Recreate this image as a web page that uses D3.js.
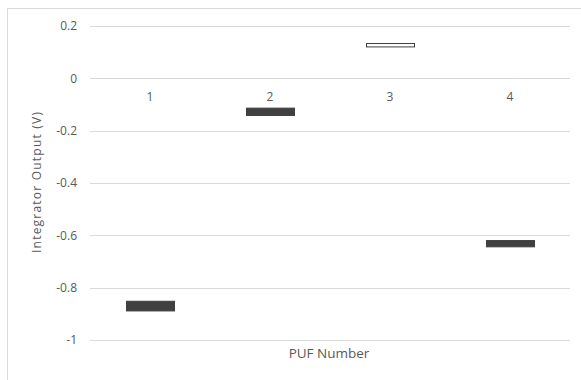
<!DOCTYPE html>
<html>
<head>
<meta charset="utf-8">
<script src="https://cdn.jsdelivr.net/npm/d3@7/dist/d3.min.js"></script>
<style>
  html, body { margin: 0; padding: 0; background: #fff; }
  svg { display: block; }
  text { font-family: "Open Sans", "Noto Sans", sans-serif; fill: #595959; }
</style>
</head>
<body>
<svg id="chart" width="581" height="380"></svg>
<script>
// PUF integrator readings drawn as open/close up-down bars
const pufs = ["1", "2", "3", "4"];
const openValues = [-0.85, -0.112, 0.122, -0.618];
const closeValues = [-0.887, -0.14, 0.135, -0.642];
const yTicks = [0.2, 0, -0.2, -0.4, -0.6, -0.8, -1];

const svg = d3.select("#chart");
const W = 581, H = 380;
const plot = { left: 90, right: 570, top: 26, bottom: 340 };

// outer chart-area border
svg.append("rect")
  .attr("x", 7.5).attr("y", 8.5)
  .attr("width", W).attr("height", H)
  .attr("fill", "none").attr("stroke", "#d9d9d9").attr("stroke-width", 1);

const x = d3.scaleBand().domain(pufs).range([plot.left, plot.right]).paddingInner(0).paddingOuter(0);
const y = d3.scaleLinear().domain([-1, 0.2]).range([plot.bottom, plot.top]);

// horizontal gridlines
svg.append("g")
  .selectAll("line")
  .data(yTicks)
  .join("line")
  .attr("x1", plot.left).attr("x2", plot.right)
  .attr("y1", d => Math.round(y(d)) + 0.5).attr("y2", d => Math.round(y(d)) + 0.5)
  .attr("stroke", "#d9d9d9").attr("stroke-width", 1);

// value axis labels (plain hyphen for negatives)
const yAxis = d3.axisLeft(y).tickValues(yTicks).tickSize(0).tickPadding(0)
  .tickFormat(d => String(+d.toFixed(1)));
const gy = svg.append("g").attr("transform", `translate(${plot.left - 13},0)`).call(yAxis);
gy.select(".domain").remove();
gy.selectAll("text").attr("font-size", 12).attr("fill", "#595959")
  .style("font-family", "'Open Sans', sans-serif");

// category labels placed just below the zero line
const xAxis = d3.axisBottom(x).tickSize(0).tickPadding(0);
const gx = svg.append("g").attr("transform", `translate(0,${y(0) + 14})`).call(xAxis);
gx.select(".domain").remove();
gx.selectAll("text").attr("font-size", 12).attr("fill", "#595959")
  .style("font-family", "'Open Sans', sans-serif");

// up/down bars: dark when closing lower, white when closing higher
const barW = 48;
svg.append("g")
  .selectAll("rect")
  .data(pufs.map((p, i) => ({ p, open: openValues[i], close: closeValues[i] })))
  .join("rect")
  .attr("x", d => x(d.p) + x.bandwidth() / 2 - barW / 2 + 0.5)
  .attr("y", d => y(Math.max(d.open, d.close)) + 0.5)
  .attr("width", barW)
  .attr("height", d => Math.abs(y(d.open) - y(d.close)))
  .attr("fill", d => d.close < d.open ? "#404040" : "#ffffff")
  .attr("stroke", "#404040")
  .attr("stroke-width", 1);

// axis titles
svg.append("text")
  .attr("transform", `translate(41,182.5) rotate(-90)`)
  .attr("text-anchor", "middle")
  .attr("font-size", 12)
  .attr("textLength", 141)
  .attr("lengthAdjust", "spacing")
  .text("Integrator Output (V)");

svg.append("text")
  .attr("x", 329).attr("y", 358)
  .attr("text-anchor", "middle")
  .attr("font-size", 13.5)
  .text("PUF Number");
</script>
</body>
</html>
